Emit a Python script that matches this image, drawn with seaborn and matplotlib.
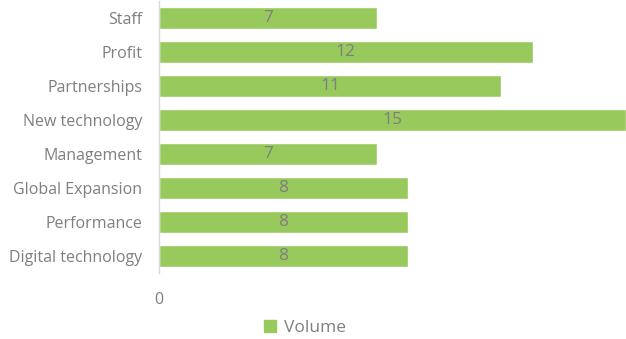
import pandas as pd
import matplotlib.pyplot as plt
import seaborn as sns
from matplotlib.lines import Line2D

# Data
categories = ['Staff', 'Profit', 'Partnerships', 'New technology', 'Management',
              'Global Expansion', 'Performance', 'Digital technology']
volume = [7, 12, 11, 15, 7, 8, 8, 8]

df = pd.DataFrame({'Category': categories, 'Volume': volume})

sns.set_theme(style='white')
plt.rcParams['font.family'] = ['Open Sans', 'DejaVu Sans']

green = '#98C95C'
grey = '#7F7F7F'

fig = plt.figure(figsize=(6.26, 3.39), dpi=100)
ax = fig.add_axes([159 / 626, 1 - 273 / 339, 1 - 159 / 626, 272 / 339])

sns.barplot(data=df, x='Volume', y='Category', color=green, width=0.66,
            saturation=1, ax=ax)

for c in ax.containers:
    ax.bar_label(c, label_type='center', color=grey, fontsize=12.5)

ax.set_xlim(0, 15)
ax.set_ylim(7.5, -0.5)
ax.set_xticks([0])
ax.set_xlabel('')
ax.set_ylabel('')
ax.tick_params(axis='x', colors=grey, labelsize=11.5, pad=14, length=0)
ax.tick_params(axis='y', colors=grey, labelsize=11.5, pad=12, length=0)
for side in ['top', 'right', 'bottom']:
    ax.spines[side].set_visible(False)
ax.spines['left'].set_color('#D9D9D9')
ax.spines['left'].set_linewidth(1)

handle = Line2D([], [], marker='s', linestyle='', color=green, markersize=8)
fig.legend([handle], ['Volume'], loc='center', bbox_to_anchor=(0.485, 0.033),
           frameon=False, fontsize=12.5, labelcolor=grey, handletextpad=0.3,
           handlelength=1)

fig.savefig('out.png', dpi=100)
